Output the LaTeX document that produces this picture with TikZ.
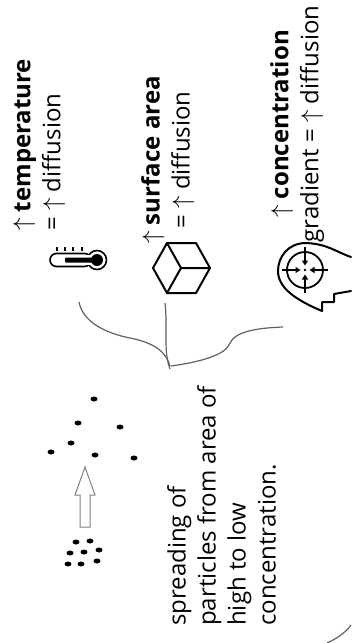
\documentclass[tikz,border=0pt]{standalone}
\usepackage{fontspec}
\setmainfont{Open Sans}
\usepackage{tikz}
\usetikzlibrary{arrows.meta}

\tikzset{
  lbl/.style={rotate=90, inner sep=0pt, font=\fontsize{24}{30}\selectfont},
  brace/.style={draw=black!62, line width=1.2pt},
  icon/.style={line width=2pt, line join=round, line cap=round}
}

\begin{document}
\begin{tikzpicture}[x=1pt, y=-1pt]
			\useasboundingbox (0,0) rectangle (351,643);
			% the three factors
			\node[lbl, align=left, anchor=north west] (temp) at (13,231) {$\uparrow$ \textbf{temperature}\\= $\uparrow$ diffusion};
			\node[lbl, align=center, anchor=north] (surf) at (141,160) {$\uparrow$ \textbf{surface area}\\= $\uparrow$ diffusion};
			\node[lbl, align=center, anchor=north] (conc) at (270,124) {$\uparrow$ \textbf{concentration}\\gradient = $\uparrow$ diffusion};
			\node[lbl, align=left, anchor=north west] (spread) at (167,626) {spreading of\\particles from area of\\high to low\\concentration.};
			% thermometer
			\filldraw[icon, fill=white, line width=1.6pt] (97,260) circle (9.5);
			\filldraw[fill=white, line width=1.6pt, rounded corners=6.5pt] (50,253.5) rectangle (91,266.5);
			\fill[white] (86,255.2) rectangle (93,264.8);
			\fill (97,260) circle (6);
			\fill[rounded corners=1pt] (65,257.5) rectangle (96,262.5);
			\foreach \x in {57,65,73,82}
			\draw[line width=1.2pt] (\x,247) -- (\x,251);
			% cube
			\draw[icon] (153,268) -- (167,243) -- (196,243) -- (210,268) -- (196,293) -- (167,293) -- cycle;
			\draw[icon] (167,243) -- (181,268) -- (210,268);
			\draw[icon] (181,268) -- (167,293);
			% head with target
			\draw[icon] (351,257) .. controls (336,252) and (328,244) .. (306,243)
			  .. controls (288,243) and (278,257) .. (278,271)
			  .. controls (278,288) and (296,300) .. (322,311)
			  -- (322,302) -- (334,302) -- (334,294) -- (351,291);
			\draw[line width=1.8pt] (305,270) circle (18);
			\foreach \a in {0,90,180,270}
			\draw[line width=1.8pt, -{Triangle[length=5pt,width=6pt]}, shift={(305,270)}] (\a:23) -- (\a:4.5);
			\fill (305,270) circle (1.3);
			% brace
			\draw[brace] (79,302) .. controls (83,322) and (105,333) .. (130,338)
			  .. controls (155,343) and (166,352) .. (170,366);
			\draw[brace] (165,303) .. controls (168,330) and (163,350) .. (170,369);
			\draw[brace] (283,327) .. controls (255,328) and (235,332) .. (230,343)
			  .. controls (226,355) and (200,362) .. (171,366);
			\draw[brace] (327,643) .. controls (338,638) and (346,632) .. (351,625);
			% particles
			\foreach \x/\y in {94/399,78/423,120/427,71/443,51/452,95/455,134/458}
			\fill (\x,\y) ellipse (3.5 and 2.5);
			\foreach \x/\y in {76/542,90/541,70/553,84/552,99/550,68/564,81/564,97/561}
			\fill (\x,\y) ellipse (3.5 and 2.5);
			\draw[draw=black!50, fill=white, line width=1pt] (85,467) -- (95,495) -- (90,495) -- (90,527)
			  -- (80,527) -- (80,495) -- (75,495) -- cycle;
		\end{tikzpicture}
\end{document}
